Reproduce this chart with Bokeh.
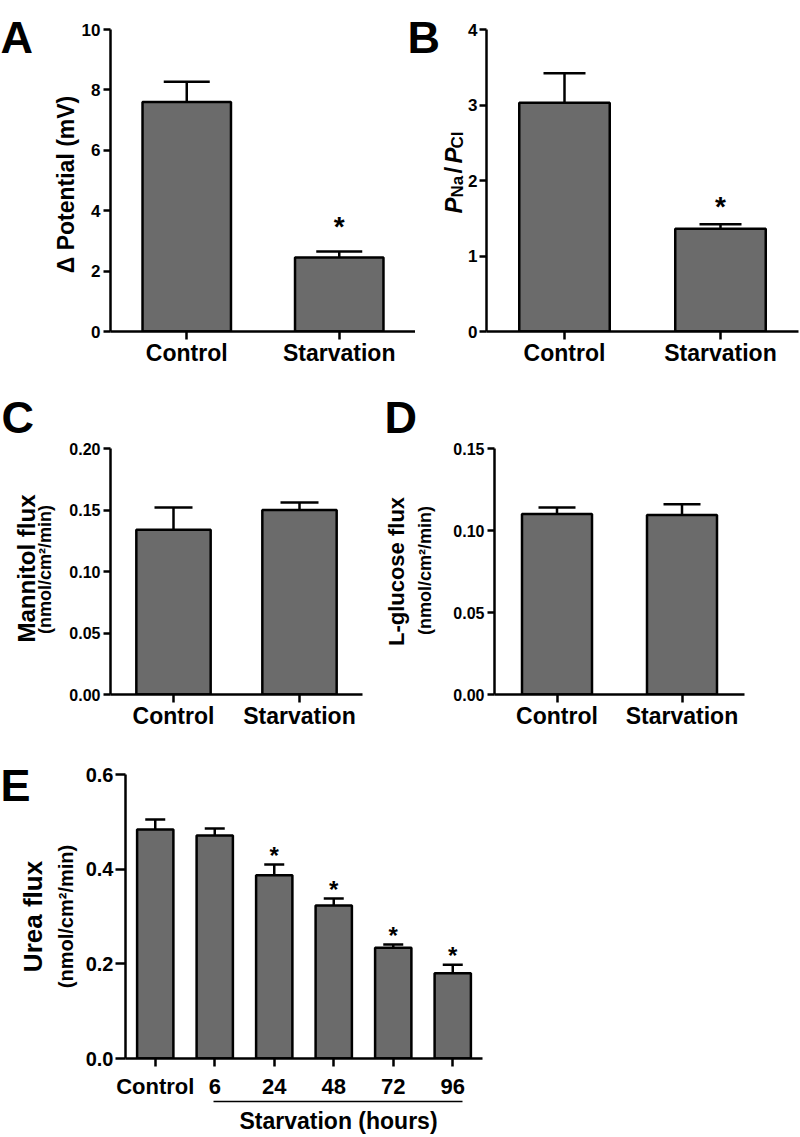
import math
from bokeh.plotting import figure
from bokeh.models import (ColumnDataSource, FactorRange, Range1d, FixedTicker,
                          NumeralTickFormatter, Whisker, TeeHead, Label,
                          LinearAxis, GridBox)
from bokeh.layouts import column, row
from bokeh.core.properties import value
from bokeh.embed import file_html
from bokeh.resources import INLINE

FONT = "Liberation Sans"
BAR_FILL = "#6b6b6b"

# ---------------- data ----------------
cats_two = ["Control", "Starvation"]

potential_mean = [7.60, 2.45]
potential_sem = [0.67, 0.20]
potential_sig = [False, True]

pna_pcl_mean = [3.03, 1.36]
pna_pcl_sem = [0.39, 0.06]
pna_pcl_sig = [False, True]

mannitol_mean = [0.134, 0.150]
mannitol_sem = [0.018, 0.006]

lglucose_mean = [0.110, 0.1095]
lglucose_sem = [0.004, 0.0065]

urea_cats = ["Control", "6", "24", "48", "72", "96"]
urea_mean = [0.484, 0.471, 0.387, 0.323, 0.234, 0.180]
urea_sem = [0.021, 0.015, 0.023, 0.015, 0.007, 0.018]
urea_sig = [False, False, True, True, True, True]

ticks_a = [0, 2, 4, 6, 8, 10]
ticks_b = [0, 1, 2, 3, 4]
ticks_c = [0.0, 0.05, 0.10, 0.15, 0.20]
ticks_d = [0.0, 0.05, 0.10, 0.15]
ticks_e = [0.0, 0.2, 0.4, 0.6]

UNIT = "(nmol/cm\u00b2/min)"


def panel(cats, mean, sem, *, width, height, left, right, top, bottom, y_end,
          ticks, fmt, bar_w, cap, ytick_size, xtick_size, ytick_out=7,
          ytick_standoff=3, xtick_standoff=0, sig=None, star_size="28px",
          star_offset=-12):
    p = figure(x_range=FactorRange(factors=cats), y_range=Range1d(0, y_end),
               width=width, height=height, output_backend="svg",
               toolbar_location=None, min_border_left=left,
               min_border_right=right, min_border_top=top,
               min_border_bottom=bottom)
    upper = [m + s for m, s in zip(mean, sem)]
    src = ColumnDataSource(dict(x=cats, mean=mean, upper=upper))
    p.vbar(x="x", top="mean", width=bar_w, source=src, fill_color=BAR_FILL,
           line_color="black", line_width=2.5)
    p.add_layout(Whisker(base="x", lower="mean", upper="upper", source=src,
                         line_width=2.5, line_color="black",
                         upper_head=TeeHead(size=cap, line_width=2.5,
                                            line_color="black"),
                         lower_head=None))
    if sig is not None:
        sx = [c for c, s in zip(cats, sig) if s]
        sy = [u for u, s in zip(upper, sig) if s]
        p.text(x=sx, y=sy, text=["*"] * len(sx), text_font=value(FONT),
               text_font_style="bold", text_font_size=star_size,
               text_align="center", text_baseline="alphabetic",
               y_offset=star_offset, text_color="black")
    p.xgrid.visible = False
    p.ygrid.visible = False
    p.outline_line_color = None
    p.background_fill_color = "white"
    p.border_fill_color = "white"

    ya = p.yaxis[0]
    ya.ticker = FixedTicker(ticks=ticks)
    ya.formatter = NumeralTickFormatter(format=fmt)
    ya.axis_line_width = 2.5
    ya.axis_line_color = "black"
    ya.major_tick_line_width = 2.5
    ya.major_tick_line_color = "black"
    ya.major_tick_out = ytick_out
    ya.major_tick_in = 0
    ya.minor_tick_line_color = None
    ya.major_label_text_font = FONT
    ya.major_label_text_font_style = "bold"
    ya.major_label_text_font_size = ytick_size
    ya.major_label_text_color = "black"
    ya.major_label_standoff = ytick_standoff

    xa = p.xaxis[0]
    xa.axis_line_width = 2.5
    xa.axis_line_color = "black"
    xa.major_tick_line_width = 2.5
    xa.major_tick_line_color = "black"
    xa.major_tick_out = 8
    xa.major_tick_in = 0
    xa.minor_tick_line_color = None
    xa.major_label_text_font = FONT
    xa.major_label_text_font_style = "bold"
    xa.major_label_text_font_size = xtick_size
    xa.major_label_text_color = "black"
    xa.major_label_standoff = xtick_standoff
    return p


# ---------------- A ----------------
pA = panel(cats_two, potential_mean, potential_sem, width=415, height=375,
           left=110, right=0, top=29, bottom=44, y_end=10, ticks=ticks_a,
           fmt="0", bar_w=0.58, cap=46, ytick_size="17px", xtick_size="23px",
           sig=potential_sig, star_size="28px", star_offset=-25)

# ---------------- B ----------------
pB = panel(cats_two, pna_pcl_mean, pna_pcl_sem, width=385, height=375,
           left=71, right=2, top=23, bottom=43, y_end=4, ticks=ticks_b,
           fmt="0", bar_w=0.58, cap=42, ytick_size="17px", xtick_size="23px",
           ytick_standoff=2, sig=pna_pcl_sig, star_size="28px",
           star_offset=-18)

# ---------------- C ----------------
pC = panel(cats_two, mannitol_mean, mannitol_sem, width=385, height=365,
           left=110, right=23, top=69, bottom=46, y_end=0.20, ticks=ticks_c,
           fmt="0.00", bar_w=0.59, cap=38, ytick_size="16px",
           xtick_size="23px")

# ---------------- D ----------------
pD = panel(cats_two, lglucose_mean, lglucose_sem, width=415, height=365,
           left=109, right=56, top=73, bottom=42, y_end=0.15, ticks=ticks_d,
           fmt="0.00", bar_w=0.56, cap=37, ytick_size="16px",
           xtick_size="23px")

# ---------------- E ----------------
pE = panel(urea_cats, urea_mean, urea_sem, width=600, height=397,
           left=125, right=118, top=34, bottom=79, y_end=0.6, ticks=ticks_e,
           fmt="0.0", bar_w=0.61, cap=20, ytick_size="20px",
           xtick_size="22px", ytick_out=10, ytick_standoff=2,
           xtick_standoff=7, sig=urea_sig, star_size="24px", star_offset=-9)
# bracket line under the starvation time points (6 .. 96 h)
ax2 = LinearAxis(bounds=(1.48, 5.66), ticker=FixedTicker(ticks=[]),
                 axis_line_width=1.5, axis_line_color="black",
                 major_tick_out=0, major_tick_in=0,
                 minor_tick_line_color=None, major_label_standoff=0)
pE.add_layout(ax2, "below")

panels = column(row(pA, pB), row(pC, pD), pE)

# ---------------- overlay with panel letters and axis titles ----------------
ov = figure(width=800, height=1137, x_range=Range1d(0, 800),
            y_range=Range1d(0, 1137), output_backend="svg",
            toolbar_location=None, x_axis_type=None, y_axis_type=None,
            min_border=0, min_border_left=0, min_border_right=0,
            min_border_top=0, min_border_bottom=0)
ov.grid.visible = False
ov.outline_line_color = None
ov.background_fill_color = None
ov.border_fill_color = None
H = 1137


def txt(text, x, y, size, style="bold", angle=0.0, align="left",
        baseline="alphabetic"):
    ov.add_layout(Label(x=x, y=H - y, text=text, angle=angle,
                        text_font=FONT, text_font_style=style,
                        text_font_size=size, text_color="black",
                        text_align=align, text_baseline=baseline))


V = math.pi / 2
# panel letters
txt("A", 0, 37, "45px")
txt("B", 407, 37, "45px")
txt("C", 1, 417, "45px")
txt("D", 384, 417, "45px")
txt("E", 0, 785, "45px")

# y-axis titles
txt("\u0394 Potential (mV)", 65, 184, "23px", angle=V, align="center",
    baseline="middle")
txt("P", 453, 213, "24px", style="bold italic", angle=V)
txt("Na", 457, 197, "17px", angle=V)
txt("/", 453, 173, "24px", angle=V)
txt("P", 453, 163, "24px", style="bold italic", angle=V)
txt("Cl", 457, 148, "17px", angle=V)

txt("Mannitol flux", 26, 568, "24px", angle=V, align="center",
    baseline="middle")
txt(UNIT, 44, 569, "18px", angle=V, align="center", baseline="middle")
txt("L-glucose flux", 396, 571, "22px", angle=V, align="center",
    baseline="middle")
txt(UNIT, 424, 570, "18px", angle=V, align="center", baseline="middle")
txt("Urea flux", 32, 916, "26px", angle=V, align="center",
    baseline="middle")
txt(UNIT, 65, 916, "20px", angle=V, align="center", baseline="middle")

# group title under the time points
txt("Starvation (hours)", 338, 1120, "23px", align="center",
    baseline="middle")

layout = GridBox(children=[(panels, 0, 0), (ov, 0, 0)])
open("out.html", "w").write(file_html(layout, INLINE))
